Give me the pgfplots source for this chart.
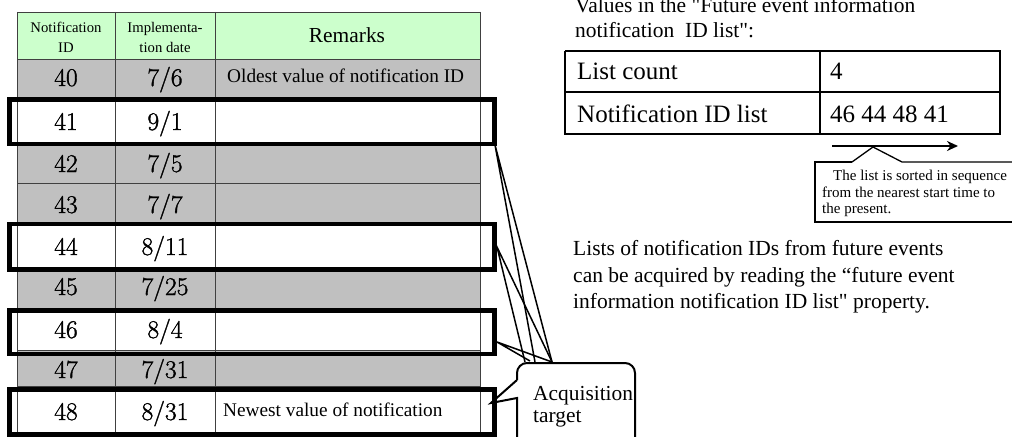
\documentclass[border=0pt]{standalone}
\usepackage{pgfplots}
\pgfplotsset{compat=1.18}
\usepackage{fontspec}
\newfontfamily\tnr{Liberation Serif}
\newfontfamily\lmnum{Latin Modern Roman}[FakeBold=1.3]
\usetikzlibrary{arrows.meta}
\definecolor{hdr}{HTML}{CCFFCC}
\definecolor{gry}{HTML}{C0C0C0}
\definecolor{gridc}{HTML}{404040}
\newcommand\fs[2]{\fontsize{#1bp}{#2bp}\selectfont}
\newcommand\numf{\lmnum\fs{25.5}{30}}
\begin{document}
\begin{tikzpicture}
\begin{axis}[hide axis, scale only axis, width=1012bp, height=437bp,
  xmin=0, xmax=1012, ymin=0, ymax=437, y dir=reverse, clip=false]
\coordinate (TL) at (axis cs:0,0);
\coordinate (BR) at (axis cs:1012,437);
% ---- left table fills
\fill[hdr] (axis cs:17,12) rectangle (axis cs:480,59);
\fill[gry] (axis cs:17,59) rectangle (axis cs:480,98);
\fill[gry] (axis cs:17,143) rectangle (axis cs:480,222);
\fill[gry] (axis cs:17,270) rectangle (axis cs:480,308);
\fill[gry] (axis cs:17,350) rectangle (axis cs:480,386);
% grid lines
\addplot[gridc, line width=0.9bp, mark=none] coordinates {(17,12) (480,12)};
\addplot[gridc, line width=0.9bp, mark=none] coordinates {(17,59) (480,59)};
\addplot[gridc, line width=0.9bp, mark=none] coordinates {(17,98) (480,98)};
\addplot[gridc, line width=0.9bp, mark=none] coordinates {(17,143) (480,143)};
\addplot[gridc, line width=0.9bp, mark=none] coordinates {(17,183) (480,183)};
\addplot[gridc, line width=0.9bp, mark=none] coordinates {(17,222) (480,222)};
\addplot[gridc, line width=0.9bp, mark=none] coordinates {(17,270) (480,270)};
\addplot[gridc, line width=0.9bp, mark=none] coordinates {(17,308) (480,308)};
\addplot[gridc, line width=0.9bp, mark=none] coordinates {(17,350) (480,350)};
\addplot[gridc, line width=0.9bp, mark=none] coordinates {(17,386) (480,386)};
\addplot[gridc, line width=0.9bp, mark=none] coordinates {(17,433) (480,433)};
\addplot[gridc, line width=0.9bp, mark=none] coordinates {(17,12) (17,433)};
\addplot[gridc, line width=0.9bp, mark=none] coordinates {(115,12) (115,433)};
\addplot[gridc, line width=0.9bp, mark=none] coordinates {(215,12) (215,433)};
\addplot[gridc, line width=0.9bp, mark=none] coordinates {(480,12) (480,433)};
% thick boxes
\draw[line width=4.5bp] (axis cs:9.5,99.5) rectangle (axis cs:494.5,144);
\draw[line width=4.5bp] (axis cs:9.5,224) rectangle (axis cs:494.5,269.5);
\draw[line width=4.5bp] (axis cs:9.5,310.5) rectangle (axis cs:494.5,354);
\draw[line width=4.5bp] (axis cs:9.5,389.5) rectangle (axis cs:494.5,434.5);
% header text
\node[font=\tnr\fs{14.7}{20}, align=center] at (axis cs:66,37) {Notification\\ID};
\node[font=\tnr\fs{14.7}{20}, align=center] at (axis cs:165,37) {Implementa-\\tion date};
\node[font=\tnr\fs{21.4}{25}] at (axis cs:347,35) {Remarks};
% row values
\node[anchor=base, font=\numf] at (axis cs:66,86) {40};
\node[anchor=base, font=\numf] at (axis cs:66,130) {41};
\node[anchor=base, font=\numf] at (axis cs:66,172) {42};
\node[anchor=base, font=\numf] at (axis cs:66,213) {43};
\node[anchor=base, font=\numf] at (axis cs:66,255) {44};
\node[anchor=base, font=\numf] at (axis cs:66,295) {45};
\node[anchor=base, font=\numf] at (axis cs:66,338) {46};
\node[anchor=base, font=\numf] at (axis cs:66,378) {47};
\node[anchor=base, font=\numf] at (axis cs:66,420) {48};
\node[anchor=base, font=\numf] at (axis cs:165,86) {7/6};
\node[anchor=base, font=\numf] at (axis cs:165,130) {9/1};
\node[anchor=base, font=\numf] at (axis cs:165,172) {7/5};
\node[anchor=base, font=\numf] at (axis cs:165,213) {7/7};
\node[anchor=base, font=\numf] at (axis cs:165,255) {8/11};
\node[anchor=base, font=\numf] at (axis cs:165,295) {7/25};
\node[anchor=base, font=\numf] at (axis cs:165,338) {8/4};
\node[anchor=base, font=\numf] at (axis cs:165,378) {7/31};
\node[anchor=base, font=\numf] at (axis cs:165,420) {8/31};
\node[anchor=base west, font=\tnr\fs{19.3}{23}, inner sep=0pt] at (axis cs:227,83) {Oldest value of notification ID};
\node[anchor=base west, font=\tnr\fs{19.3}{23}, inner sep=0pt] at (axis cs:223,416) {Newest value of notification};
% ---- right side
\node[anchor=base west, font=\tnr\fs{21.5}{26}, inner sep=0pt] at (axis cs:575,12.7) {Values in the "Future event information};
\node[anchor=base west, font=\tnr\fs{21.5}{26}, inner sep=0pt] at (axis cs:575,38) {notification\ \ ID list":};
% small table
\addplot[black, line width=1.3bp, mark=none] coordinates {(565,51) (1000,51) (1000,134) (565,134) (565,51)};
\addplot[black, line width=1.3bp, mark=none] coordinates {(565,92) (1000,92)};
\addplot[black, line width=1.3bp, mark=none] coordinates {(820,51) (820,134)};
\node[anchor=base west, font=\tnr\fs{25}{30}, inner sep=0pt] at (axis cs:577,80) {List count};
\node[anchor=base west, font=\tnr\fs{25}{30}, inner sep=0pt] at (axis cs:577,122) {Notification ID list};
\node[anchor=base west, font=\tnr\fs{25}{30}, inner sep=0pt] at (axis cs:830,80) {4};
\node[anchor=base west, font=\tnr\fs{25}{30}, inner sep=0pt] at (axis cs:830,122) {46 44 48 41};
% arrow
\draw[line width=2.5bp, -{Stealth[length=11bp,width=10bp]}] (axis cs:832,146) -- (axis cs:958,146);
% callout
\draw[line width=1.3bp] (axis cs:852,162) -- (axis cs:815,162) -- (axis cs:815,222) -- (axis cs:1030,222);
\draw[line width=1.3bp] (axis cs:852,162) -- (axis cs:873,147) -- (axis cs:902,162) -- (axis cs:1030,162);
\node[anchor=base west, font=\tnr\fs{15}{18}, inner sep=0pt] at (axis cs:833,180) {The list is sorted in sequence};
\node[anchor=base west, font=\tnr\fs{15}{18}, inner sep=0pt] at (axis cs:822,197) {from the nearest start time to};
\node[anchor=base west, font=\tnr\fs{15}{18}, inner sep=0pt] at (axis cs:822,213) {the present.};
% explanation
\node[anchor=base west, font=\tnr\fs{21.5}{26}, inner sep=0pt] at (axis cs:573,255) {Lists of notification IDs from future events};
\node[anchor=base west, font=\tnr\fs{21.5}{26}, inner sep=0pt] at (axis cs:573,282) {can be acquired by reading the “future event};
\node[anchor=base west, font=\tnr\fs{21.5}{26}, inner sep=0pt] at (axis cs:573,308) {information notification ID list" property.};
% acquisition callout tails
\addplot[black, line width=1.5bp, mark=none] coordinates {(535,362) (495,145) (552,362)};
\addplot[black, line width=1.5bp, mark=none] coordinates {(525,362) (497,247) (552,362)};
\addplot[black, line width=1.5bp, mark=none] coordinates {(530,361) (497,342) (552,362)};
\fill[white] (axis cs:518,364) rectangle (axis cs:634,440);
\draw[line width=2bp] (axis cs:517,380) [rounded corners=10bp] -- (axis cs:517,363) -- (axis cs:635,363) -- (axis cs:635,450);
\draw[line width=2bp] (axis cs:517,450) -- (axis cs:517,398) -- (axis cs:491,403) -- (axis cs:517,380);
\node[anchor=base west, font=\tnr\fs{21.4}{25}, inner sep=0pt] at (axis cs:533,400) {Acquisition};
\node[anchor=base west, font=\tnr\fs{21.4}{25}, inner sep=0pt] at (axis cs:533,422) {target};
\end{axis}
\pgfresetboundingbox
\useasboundingbox (TL) rectangle (BR);
\end{tikzpicture}
\end{document}
